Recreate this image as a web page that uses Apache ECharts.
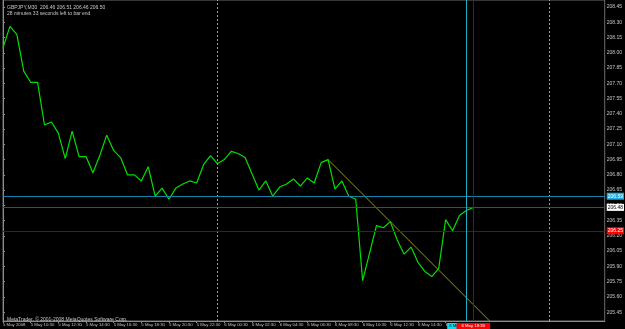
<!DOCTYPE html>
<html>
<head>
<meta charset="utf-8">
<script src="https://cdn.jsdelivr.net/npm/echarts@6/dist/echarts.min.js"></script>
<style>html,body{margin:0;padding:0;background:#000;}#c{width:625px;height:329px;}</style>
</head>
<body>
<div id="c"></div>
<script>
// ---- data ----
const titleLine1 = "GBPJPY,M30  206.46 206.51 206.46 206.50";
const titleLine2 = "28 minutes 33 seconds left to bar end";
const copyrightText = "MetaTrader, © 2001-2008 MetaQuotes Software Corp.";

const closes = [
  208.05, 208.26, 208.18, 207.82, 207.71, 207.71, 207.29, 207.32, 207.21, 206.96,
  207.23, 206.98, 206.98, 206.82, 206.99, 207.19, 207.04, 206.97, 206.80, 206.80,
  206.74, 206.88, 206.59, 206.67, 206.56, 206.67, 206.71, 206.74, 206.72, 206.90,
  206.99, 206.91, 206.95, 207.03, 207.01, 206.97, 206.81, 206.65, 206.74, 206.59,
  206.68, 206.71, 206.76, 206.69, 206.77, 206.72, 206.92, 206.95, 206.66, 206.74,
  206.59, 206.56, 205.76, 206.03, 206.30, 206.28, 206.34, 206.16, 206.02, 206.09,
  205.94, 205.85, 205.80, 205.88, 206.36, 206.25, 206.40, 206.45, 206.48
];

const timeTickBars = [0, 4, 8, 12, 16, 20, 24, 28, 32, 36, 40, 44, 48, 52, 56, 60, 64];
const timeTickLabels = [
  "5 May 2008", "5 May 10:30", "5 May 12:30", "5 May 14:30", "5 May 16:30",
  "5 May 18:30", "5 May 20:30", "5 May 22:30", "6 May 00:30", "6 May 02:30",
  "6 May 04:30", "6 May 06:30", "6 May 08:30", "6 May 10:30", "6 May 12:30",
  "6 May 14:30", "6 May 16:30"
];

const priceTicks = [205.45, 205.60, 205.75, 205.90, 206.05, 206.20, 206.35, 206.50,
  206.65, 206.80, 206.95, 207.10, 207.25, 207.40, 207.55, 207.70, 207.85, 208.00,
  208.15, 208.30, 208.45];

const trendBars = [47, 71];
const trendPrices = [206.95, 205.32];

const daySeparatorBars = [31, 79];
const cyanLevel = 206.59;
const redLevel = 206.25;
const bidLevel = 206.48;
const cyanBar = 67;
const redBar = 68;
const cyanBarLabel = "6 May 2008 18:00";
const redBarLabel = "6 May 18:30";

// ---- chart ----
const FONT = "Liberation Sans";
const chart = echarts.init(document.getElementById('c'), null, {renderer: 'canvas'});

const option = {
  backgroundColor: '#000000',
  animation: false,
  textStyle: {fontFamily: FONT},
  title: [
    {text: titleLine1, left: 2, top: 0, textStyle: {color: '#c8c8c8', fontSize: 5, fontWeight: 'normal', fontFamily: FONT}},
    {text: titleLine2, left: 2, top: 6, textStyle: {color: '#c8c8c8', fontSize: 5, fontWeight: 'normal', fontFamily: FONT}},
    {text: copyrightText, left: 2, top: 312, textStyle: {color: '#c8c8c8', fontSize: 5, fontWeight: 'normal', fontFamily: FONT}}
  ],
  grid: {left: 1, right: 17, top: 0, bottom: 8, show: true, borderColor: '#6e6e6e', borderWidth: 1, backgroundColor: '#000'},
  xAxis: {
    type: 'value', min: 0, max: 87,
    splitLine: {show: false},
    axisLine: {show: true, lineStyle: {color: '#8c8c8c'}},
    axisTick: {show: true, length: 2, customValues: timeTickBars, lineStyle: {color: '#8c8c8c'}},
    axisLabel: {
      customValues: timeTickBars,
      color: '#c8c8c8', fontSize: 4.3, fontFamily: FONT, align: 'left', margin: 2,
      formatter: v => timeTickLabels[timeTickBars.indexOf(v)] || ''
    }
  },
  yAxis: {
    type: 'value', position: 'right', min: 205.363, max: 208.519,
    splitLine: {show: false},
    axisLine: {show: true, lineStyle: {color: '#8c8c8c'}},
    axisTick: {show: true, length: 2, customValues: priceTicks, lineStyle: {color: '#8c8c8c'}},
    axisLabel: {
      customValues: priceTicks, color: '#c8c8c8', fontSize: 5, fontFamily: FONT, margin: 2,
      formatter: v => v.toFixed(2)
    }
  },
  series: [
    {
      type: 'line', name: 'levels', data: [], silent: true, z: 1,
      markLine: {
        symbol: 'none', silent: true, animation: false,
        data: [
          {xAxis: daySeparatorBars[0], lineStyle: {color: '#a0a0a0', type: [2, 2], width: 1}, label: {show: false}},
          {xAxis: daySeparatorBars[1], lineStyle: {color: '#a0a0a0', type: [2, 2], width: 1}, label: {show: false}},
          {yAxis: bidLevel, lineStyle: {color: '#4a4a4a', type: 'solid', width: 1},
            label: {show: true, position: 'end', distance: 2, formatter: bidLevel.toFixed(2), color: '#000', backgroundColor: '#ffffff', fontSize: 5, padding: [1, 1], fontFamily: FONT}},
          {yAxis: cyanLevel, lineStyle: {color: '#1283aa', type: 'solid', width: 1},
            label: {show: true, position: 'end', distance: 2, formatter: cyanLevel.toFixed(2), color: '#fff', backgroundColor: '#1eaee0', fontSize: 5, padding: [1, 1], fontFamily: FONT}},
          {yAxis: redLevel, lineStyle: {color: '#8e0000', type: 'solid', width: 1},
            label: {show: true, position: 'end', distance: 2, formatter: redLevel.toFixed(2), color: '#fff', backgroundColor: '#ff0000', fontSize: 5, padding: [1, 1], fontFamily: FONT}}
        ]
      }
    },
    {
      type: 'line', name: 'cursorCyan', data: [], silent: true, z: 3,
      markLine: {
        symbol: 'none', silent: true, animation: false,
        data: [
          {xAxis: cyanBar, lineStyle: {color: '#1fb0c4', type: 'solid', width: 1},
            label: {show: true, position: 'start', distance: 2, formatter: cyanBarLabel, color: '#000', backgroundColor: '#00e0f0', fontSize: 4.3, padding: [1, 2], fontFamily: FONT}}
        ]
      }
    },
    {
      type: 'line', name: 'cursorRed', data: [], silent: true, z: 4,
      markLine: {
        symbol: 'none', silent: true, animation: false,
        data: [
          {xAxis: redBar, lineStyle: {color: '#9a0000', type: 'solid', width: 1},
            label: {show: true, position: 'start', distance: 2, formatter: redBarLabel, color: '#fff', backgroundColor: '#ff0000', fontSize: 4.3, padding: [1, 5], fontFamily: FONT}}
        ]
      }
    },
    {
      type: 'line', name: 'trend', silent: true, clip: true, symbol: 'none', z: 2,
      data: trendBars.map((b, i) => [b, trendPrices[i]]),
      lineStyle: {color: '#9a9a00', width: 1}
    },
    {
      type: 'line', name: 'GBPJPY', silent: true, symbol: 'none', clip: true, z: 2,
      data: closes.map((c, i) => [i, c]),
      lineStyle: {color: '#00e000', width: 1.2}
    }
  ]
};
chart.setOption(option);
</script>
</body>
</html>
